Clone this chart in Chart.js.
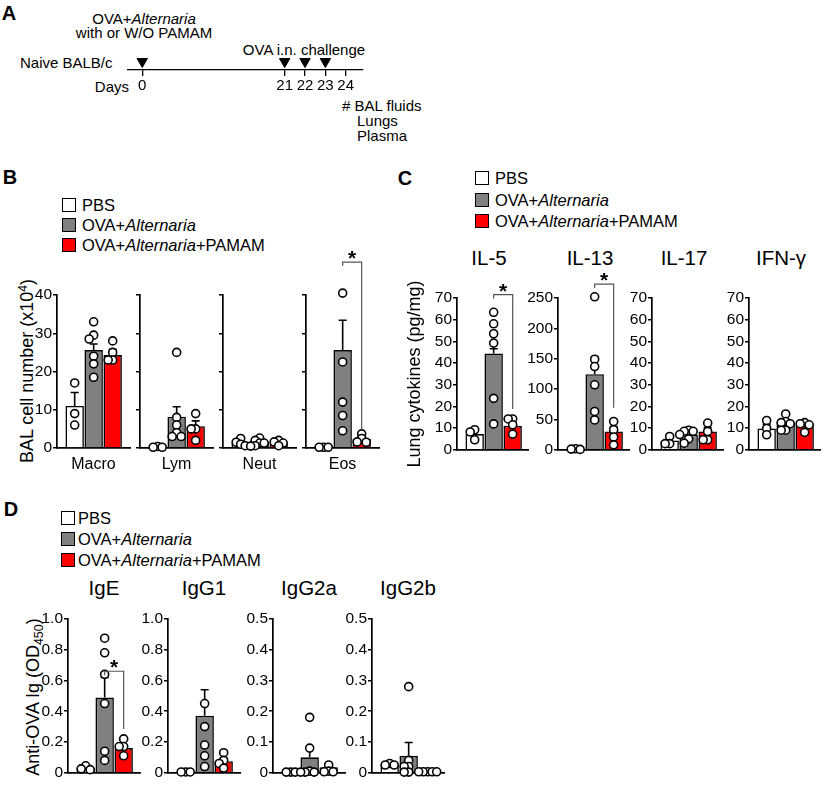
<!DOCTYPE html>
<html>
<head>
<meta charset="utf-8">
<script src="https://cdn.jsdelivr.net/npm/chart.js@4.4.1/dist/chart.umd.min.js"></script>
<style>
  body { margin: 0; background: #fff; }
  #fig { position: relative; width: 825px; height: 785px; overflow: hidden; font-family: Arial, "Liberation Sans", Helvetica, sans-serif; color: #000; }
  .t { position: absolute; white-space: nowrap; line-height: 1; }
  .box { position: absolute; width: 14px; height: 14px; box-sizing: border-box; border: 1.3px solid #000; }
  canvas { position: absolute; }
</style>
</head>
<body>
<div id="fig"></div>
<script>
// groups shown in every bar panel
const groupNames = ['PBS', 'OVA+Alternaria', 'OVA+Alternaria+PAMAM'];
const groupColors = ['#ffffff', '#808080', '#ff0000'];

// A - timeline (days)
const timelineDays = ['0', '', '', '', '', '', '', '21', '22', '23', '24'];
const timelineArrows = ['0', '21', '22', '23'];

// B - BAL cell number (x10^4)
const balCats = ['Macro', 'Lym', 'Neut', 'Eos'];
const balMean = [[11, 25.6, 24.3], [0.4, 8.2, 5.7], [1.4, 1.7, 1.4], [0.3, 25.6, 2.4]];
const balSem = [[3.5, 1.6, 1.5], [0.2, 2.6, 1.4], [0.3, 0.4, 0.3], [0.1, 7.8, 0.8]];
const balPts = [
  [[17, 9, 6], [33, 29.5, 28.5, 24, 22, 18.5], [28, 25, 23, 23]],
  [[0.4, 0.2, 0.2], [25, 8, 6, 4, 3, 3], [9, 5, 5, 2]],
  [[2.5, 1.5, 1, 0.6], [2.6, 2, 1.3, 1.3, 0.6, 0.5], [2, 1.6, 1.3, 0.6]],
  [[0.2, 0.2, 0.2], [46, 40.5, 22.5, 12, 8.5, 4.5], [3.7, 2.5, 1.6, 1.5]]
];
const balSig = [null, null, null, [1, 2, 48.6, 4.7]];

// C - lung cytokines (pg/mg)
const cytoCats = ['IL-5', 'IL-13', 'IL-17', 'IFN-\u03b3'];
const cytoMax = [70, 250, 70, 70];
const cytoStep = [10, 50, 10, 10];
const cytoMean = [[7.2, 44.4, 11.0], [1, 124.5, 30], [4.3, 7, 8.4], [9.8, 12.6, 11.4]];
const cytoSem = [[1.3, 2.2, 1.5], [0.5, 29, 8], [1.0, 1.2, 1.8], [2.0, 1.4, 1.1]];
const cytoPts = [
  [[9.2, 8.2, 4.6], [63.4, 58.1, 53.5, 49.2, 23.7, 11.9], [14.2, 14.2, 11.5, 7.2]],
  [[1.5, 1, 0.5], [252, 149, 137, 107, 63, 49], [46.5, 33, 21, 8]],
  [[6.1, 2.8, 2.8], [9, 8.5, 8.5, 7, 5, 3], [12.3, 8.4, 4.6, 4.6]],
  [[13.5, 9.8, 6.9], [16.5, 13, 12.5, 12, 9, 9], [12.5, 12, 11.5, 8]]
];
const cytoSig = [[1, 2, 71.6, 18.8], [1, 2, 273, 69], null, null];

// D - anti-OVA Ig (OD450)
const igCats = ['IgE', 'IgG1', 'IgG2a', 'IgG2b'];
const igMax = [1.0, 1.0, 0.5, 0.5];
const igStep = [0.2, 0.2, 0.1, 0.1];
const igMean = [[0.03, 0.49, 0.16], [0.005, 0.37, 0.075], [0.003, 0.05, 0.018], [0.027, 0.055, 0.004]];
const igSem = [[0.007, 0.13, 0.02], [0.002, 0.17, 0.02], [0.001, 0.03, 0.006], [0.003, 0.043, 0.002]];
const igPts = [
  [[0.045, 0.025, 0.02], [0.875, 0.78, 0.64, 0.45, 0.14, 0.08], [0.22, 0.17, 0.17, 0.11]],
  [[0.005, 0.005, 0.005], [1.04, 0.45, 0.30, 0.18, 0.11, 0.04], [0.13, 0.08, 0.06, 0.03]],
  [[0.002, 0.002, 0.002], [0.18, 0.08, 0.005, 0.002, 0.002, 0.002], [0.025, 0.005, 0.003, 0.003]],
  [[0.03, 0.025, 0.025], [0.28, 0.04, 0.02, 0.02, 0.002, 0.002], [0.003, 0.003, 0.003, 0.003, 0.003]]
];
const igSig = [[1, 2, 0.66, 0.285], null, null, null];

Chart.defaults.font.family = 'Arial, "Liberation Sans", Helvetica, sans-serif';
Chart.defaults.color = '#000';

const fig = document.getElementById('fig');
const X_MIN = 0.07;
const UNIT_PX = 19;
const DOT_R = 4;

function italicize(name) {
  return name.replace('Alternaria', '<i>Alternaria</i>');
}

function label(html, x, y, size, align, extra) {
  const d = document.createElement('div');
  d.className = 't';
  d.innerHTML = html;
  d.style.fontSize = size + 'px';
  d.style.left = x + 'px';
  d.style.top = y + 'px';
  const tx = align === 'center' ? '-50%' : (align === 'right' ? '-100%' : '0');
  let tr = 'translate(' + tx + ', -50%)';
  if (extra && extra.rotate) tr += ' rotate(-90deg)';
  d.style.transform = tr;
  if (extra && extra.bold) d.style.fontWeight = 'bold';
  fig.appendChild(d);
}

function legend(boxLeft, yc, gap, textLeft) {
  groupNames.forEach((name, g) => {
    const b = document.createElement('div');
    b.className = 'box';
    b.style.left = boxLeft + 'px';
    b.style.top = (yc + g * gap - 7) + 'px';
    b.style.background = groupColors[g];
    fig.appendChild(b);
    label(italicize(name), textLeft, yc + g * gap, 16.5, 'left');
  });
}

// spread dots sideways when they would sit on top of each other
function swarm(values, pxPerY) {
  const placed = [];
  const offs = new Array(values.length);
  const order = values.map((v, i) => i).sort((a, b) => values[b] - values[a]);
  order.forEach(i => {
    const y = values[i] * pxPerY;
    for (let k = 0; k < 40; k++) {
      const o = k === 0 ? 0 : (k % 2 ? -1 : 1) * Math.ceil(k / 2) * 4.5;
      if (placed.every(p => Math.hypot(p.x - o, p.y - y) >= 4.5)) {
        placed.push({ x: o, y: y });
        offs[i] = o;
        break;
      }
    }
  });
  return offs;
}

const errorBarPlugin = {
  id: 'errorBars',
  afterDatasetDraw(chart, args, opts) {
    if (args.index !== 0) return;
    const { ctx } = chart;
    const x = chart.scales.x, y = chart.scales.y;
    ctx.save();
    ctx.strokeStyle = '#000';
    ctx.lineWidth = 1.6;
    opts.mean.forEach((m, g) => {
      const px = x.getPixelForValue(g + 1);
      const y0 = y.getPixelForValue(m);
      const y1 = y.getPixelForValue(m + opts.sem[g]);
      ctx.beginPath();
      ctx.moveTo(px, y0);
      ctx.lineTo(px, y1);
      ctx.moveTo(px - 4, y1);
      ctx.lineTo(px + 4, y1);
      ctx.stroke();
    });
    ctx.restore();
  },
  afterDatasetsDraw(chart, args, opts) {
    if (!opts.sig) return;
    const [g1, g2, top, end] = opts.sig;
    const { ctx } = chart;
    const x = chart.scales.x, y = chart.scales.y;
    const x1 = x.getPixelForValue(g1 + 1), x2 = x.getPixelForValue(g2 + 1);
    const yT = y.getPixelForValue(top), yE = y.getPixelForValue(end);
    ctx.save();
    ctx.strokeStyle = '#555';
    ctx.lineWidth = 1.2;
    ctx.beginPath();
    ctx.moveTo(x1, yT + 4);
    ctx.lineTo(x1, yT);
    ctx.lineTo(x2, yT);
    ctx.lineTo(x2, yE);
    ctx.stroke();
    ctx.fillStyle = '#000';
    ctx.font = 'bold 21px Arial, "Liberation Sans", sans-serif';
    ctx.textAlign = 'center';
    ctx.textBaseline = 'alphabetic';
    ctx.fillText('*', (x1 + x2) / 2, yT + 3);
    ctx.restore();
  }
};

function barPanel(cfg) {
  const padTop = 60, padRight = 12;
  const plotH = cfg.bottom - cfg.top;
  const xH = cfg.xTitle ? 29 : 10;
  const cv = document.createElement('canvas');
  cv.width = cfg.yW + cfg.plotW + padRight;
  cv.height = padTop + plotH + xH;
  cv.style.left = (cfg.axisX - cfg.yW) + 'px';
  cv.style.top = (cfg.top - padTop) + 'px';
  fig.appendChild(cv);

  const xMax = X_MIN + cfg.plotW / UNIT_PX;
  const pxPerY = plotH / cfg.yMax;
  const bars = cfg.mean.map((m, g) => ({ x: g + 1, y: m }));
  const dots = [];
  cfg.pts.forEach((vals, g) => {
    const offs = swarm(vals, pxPerY);
    vals.forEach((v, i) => dots.push({ x: g + 1 + offs[i] / UNIT_PX, y: v }));
  });

  new Chart(cv, {
    type: 'bar',
    data: {
      datasets: [
        { type: 'bar', data: bars, backgroundColor: groupColors, borderColor: '#000', borderWidth: 1.6,
          barPercentage: 0.97, categoryPercentage: 1, order: 2 },
        { type: 'scatter', data: dots, pointRadius: DOT_R, pointBackgroundColor: '#fff',
          pointBorderColor: '#000', pointBorderWidth: 1.6, clip: false, order: 1 }
      ]
    },
    options: {
      responsive: false,
      animation: false,
      events: [],
      layout: { padding: { top: padTop, right: padRight, left: 0, bottom: 0 } },
      plugins: {
        legend: { display: false },
        tooltip: { enabled: false },
        errorBars: { mean: cfg.mean, sem: cfg.sem, sig: cfg.sig }
      },
      scales: {
        x: {
          type: 'linear', min: X_MIN, max: xMax, offset: false,
          afterBuildTicks: s => { s.ticks = [1, 2, 3].map(v => ({ value: v })); },
          ticks: { display: false },
          grid: { display: false },
          border: { color: '#000', width: 1.7 },
          title: { display: !!cfg.xTitle, text: cfg.xTitle || '', font: { size: 16 }, color: '#000', padding: { top: 0, bottom: 3 } },
          afterFit: s => { s.height = xH; }
        },
        y: {
          min: 0, max: cfg.yMax,
          ticks: {
            stepSize: cfg.yStep, autoSkip: false, padding: 1, color: '#000', font: { size: 15.5 },
            callback: v => cfg.showLabels ? (v === 0 ? '0' : (cfg.yStep < 1 ? v.toFixed(1) : String(v))) : ''
          },
          grid: { drawOnChartArea: false, drawTicks: true, tickLength: 4, color: '#000', lineWidth: 1.5 },
          border: { color: '#000', width: 1.7 },
          afterFit: s => { s.width = cfg.yW; }
        }
      }
    },
    plugins: [errorBarPlugin]
  });
}

// ---------- panel A ----------
label('A', 9, 13, 20, 'center', { bold: true });
label('OVA+<i>Alternaria</i>', 144, 18, 15, 'center');
label('with or W/O PAMAM', 144, 32, 15, 'center');
label('OVA i.n. challenge', 304, 49, 15, 'center');
label('Naive BALB/c', 20, 62, 15, 'left');
label('Days', 129, 86, 15, 'right');
label('# BAL fluids', 342, 105, 15, 'left');
label('Lungs', 357, 120, 15, 'left');
label('Plasma', 357, 135, 15, 'left');

const tl = document.createElement('canvas');
tl.width = 275; tl.height = 60;
tl.style.left = '100px'; tl.style.top = '40px';
fig.appendChild(tl);
new Chart(tl, {
  type: 'scatter',
  data: {
    datasets: [{
      data: timelineArrows.map(d => ({ x: timelineDays.indexOf(d), y: 0.5 })),
      pointStyle: 'triangle', pointRotation: 180, pointRadius: 6,
      pointBackgroundColor: '#000', pointBorderColor: '#000', pointBorderWidth: 1, clip: false
    }]
  },
  options: {
    responsive: false, animation: false, events: [],
    layout: { padding: { left: 28, right: 12, top: 13, bottom: 0 } },
    plugins: { legend: { display: false }, tooltip: { enabled: false } },
    scales: {
      x: {
        type: 'linear', min: -0.7, max: 10.85,
        afterBuildTicks: s => {
          s.ticks = timelineDays.map((d, i) => d === '' ? null : { value: i }).filter(Boolean);
        },
        ticks: { callback: v => timelineDays[v], font: { size: 15 }, color: '#000', padding: 1, autoSkip: false, maxRotation: 0 },
        grid: { display: true, drawOnChartArea: false, tickLength: 6, color: '#000', lineWidth: 1.3 },
        border: { color: '#000', width: 1.3 },
        afterFit: s => { s.height = 30; }
      },
      y: { display: false, min: 0, max: 1 }
    }
  }
});

// ---------- panel B ----------
label('B', 10, 177, 20, 'center', { bold: true });
legend(62, 204.5, 20, 82);
label('BAL cell number (x10<sup style="font-size:12px;vertical-align:6px">4</sup>)', 26, 371, 18, 'center', { rotate: true });
const balAxes = [57, 140, 223, 306];
balCats.forEach((cat, c) => {
  barPanel({
    axisX: balAxes[c], top: 295, bottom: 448, plotW: 73, yW: c === 0 ? 26 : 8,
    yMax: 40, yStep: 10, showLabels: c === 0, xTitle: cat,
    mean: balMean[c], sem: balSem[c], pts: balPts[c], sig: balSig[c]
  });
});

// ---------- panel C ----------
label('C', 405, 178, 20, 'center', { bold: true });
legend(475, 178, 21.5, 495);
label('Lung cytokines (pg/mg)', 414, 374, 18, 'center', { rotate: true });
const cytoAxes = [457, 558, 652, 749];
const cytoYW = [26, 32, 26, 26];
cytoCats.forEach((cat, c) => {
  label(cat, cytoAxes[c] + 32, 258, 20.5, 'center');
  barPanel({
    axisX: cytoAxes[c], top: 298, bottom: 450, plotW: 71, yW: cytoYW[c],
    yMax: cytoMax[c], yStep: cytoStep[c], showLabels: true,
    mean: cytoMean[c], sem: cytoSem[c], pts: cytoPts[c], sig: cytoSig[c]
  });
});

// ---------- panel D ----------
label('D', 11, 509, 20, 'center', { bold: true });
legend(61, 517.5, 21, 78);
label('Anti-OVA Ig (OD<sub style="font-size:12.5px;vertical-align:-4px">450</sub>)', 35, 697, 18, 'center', { rotate: true });
const igAxes = [68, 168, 273, 372];
igCats.forEach((cat, c) => {
  label(cat, igAxes[c] + 36, 588, 20.5, 'center');
  barPanel({
    axisX: igAxes[c], top: 619, bottom: 773, plotW: 72, yW: 28,
    yMax: igMax[c], yStep: igStep[c], showLabels: true,
    mean: igMean[c], sem: igSem[c], pts: igPts[c], sig: igSig[c]
  });
});
</script>
</body>
</html>
